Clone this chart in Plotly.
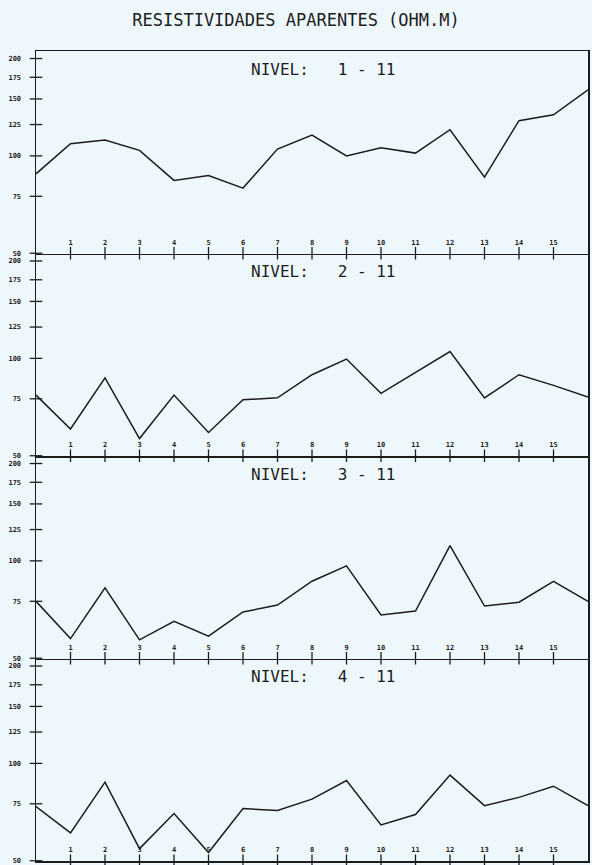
import math
import plotly.graph_objects as go

# ---------------- data ----------------
x_positions = list(range(0, 17))
x_tick_vals = list(range(1, 16))
x_tick_text = [str(v) for v in x_tick_vals]
y_tick_vals = [50, 75, 100, 125, 150, 175, 200]
y_tick_text = [str(v) for v in y_tick_vals]

panel_labels = ["NIVEL:\u00a0\u00a0\u00a01 - 11", "NIVEL:\u00a0\u00a0\u00a02 - 11",
                "NIVEL:\u00a0\u00a0\u00a03 - 11", "NIVEL:\u00a0\u00a0\u00a04 - 11"]

nivel_1 = [88, 109, 112, 104, 84, 87, 79.5, 105, 116, 100, 106, 102, 120.5, 86, 128.5, 134, 160]
nivel_2 = [77, 60.5, 87, 56.5, 77, 59, 74.5, 75.5, 89, 99.5, 78, 90.5, 105, 75.5, 89, 82.5, 76]
nivel_3 = [75, 57.5, 82.5, 57, 65, 58.5, 69.5, 73, 86.5, 96.5, 68, 70, 111.5, 72.5, 74.5, 86.5, 75]
nivel_4 = [73.5, 61, 87.5, 54.5, 70, 53, 72.5, 71.5, 77.5, 88.5, 64.5, 69.5, 92, 74, 78.5, 85, 74]
series = [nivel_1, nivel_2, nivel_3, nivel_4]

title_text = "RESISTIVIDADES APARENTES (OHM.M)"

# ---------------- style ----------------
BG = "#EEF8FC"
INK = "#1c1c1c"
MONO = "DejaVu Sans Mono, Liberation Mono, monospace"
y_lo = math.log10(50) - 0.0008
y_hi = math.log10(211)

fig = go.Figure()
n = len(series)
layout_axes = {}
annotations = []
for i, vals in enumerate(series):
    k = i + 1
    xa = "x" if k == 1 else f"x{k}"
    ya = "y" if k == 1 else f"y{k}"
    # data line
    fig.add_trace(go.Scatter(x=x_positions, y=vals, mode="lines", xaxis=xa, yaxis=ya,
                             line=dict(color=INK, width=1.5), hoverinfo="skip"))
    # crossing tick marks + labels on the x axis
    fig.add_trace(go.Scatter(x=x_tick_vals, y=[y_tick_vals[0]] * len(x_tick_vals),
                             mode="markers+text", text=x_tick_text, textposition="top center",
                             textfont=dict(family=MONO, size=7, color=INK, weight="bold"),
                             xaxis=xa, yaxis=ya, cliponaxis=False, hoverinfo="skip",
                             marker=dict(symbol="line-ns", size=9, color=INK,
                                         line=dict(color=INK, width=1.3))))
    # crossing tick marks on the y axis
    fig.add_trace(go.Scatter(x=[x_positions[0]] * len(y_tick_vals), y=y_tick_vals, mode="markers",
                             xaxis=xa, yaxis=ya, cliponaxis=False, hoverinfo="skip",
                             marker=dict(symbol="line-ew", size=9, color=INK,
                                         line=dict(color=INK, width=1.3))))
    top = 1 - i / n
    bot = 1 - (i + 1) / n
    xkey = "xaxis" if k == 1 else f"xaxis{k}"
    ykey = "yaxis" if k == 1 else f"yaxis{k}"
    layout_axes[xkey] = dict(
        domain=[0, 1], anchor=ya, range=[0, 16],
        showticklabels=False, ticks="",
        showline=True, linecolor=INK, linewidth=1.5, mirror=(k == 1),
        showgrid=False, zeroline=False, fixedrange=True, automargin=False,
    )
    layout_axes[ykey] = dict(
        domain=[bot, top], anchor=xa, type="log", range=[y_lo, y_hi],
        tickmode="array", tickvals=y_tick_vals, ticktext=y_tick_text,
        ticks="", ticklabelstandoff=12, ticklabeloverflow="allow",
        tickfont=dict(family=MONO, size=7, color=INK, weight="bold"),
        showline=True, linecolor=INK, linewidth=1.5, mirror=True,
        showgrid=False, zeroline=False, fixedrange=True, automargin=False,
    )
    annotations.append(dict(
        text=panel_labels[i], xref=f"{xa} domain", yref=f"{ya} domain",
        x=0.52, y=0.911, xanchor="center", yanchor="middle", showarrow=False,
        font=dict(family=MONO, size=16, color=INK),
    ))

fig.update_layout(
    width=592, height=865,
    margin=dict(l=36, r=4, t=51, b=4),
    paper_bgcolor=BG, plot_bgcolor=BG,
    showlegend=False, hovermode=False,
    title=dict(text=title_text, x=0.5, xanchor="center", y=1 - 20 / 865, yanchor="middle",
               font=dict(family=MONO, size=17, color=INK), automargin=False),
    annotations=annotations,
    **layout_axes,
)

fig.write_html(
    "out.html",
    config={"displayModeBar": False, "staticPlot": True},
    post_script="document.body.style.margin='0';document.body.style.overflow='hidden';"
                "document.body.style.background='" + BG + "';",
)
